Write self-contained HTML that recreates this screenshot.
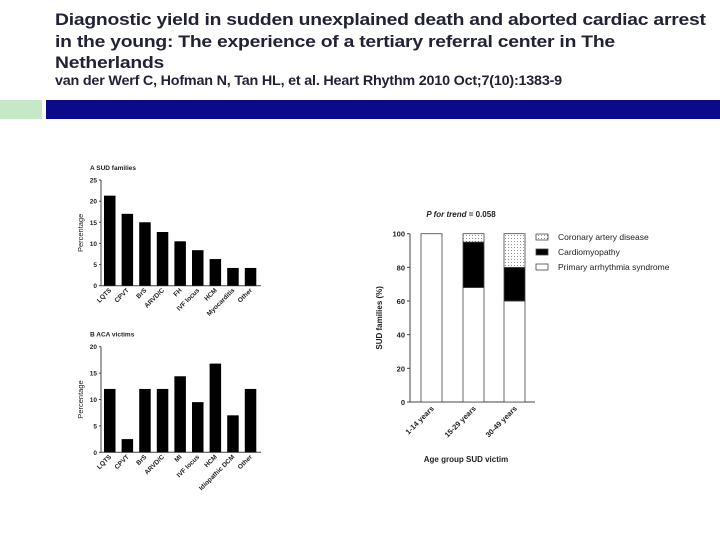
<!DOCTYPE html>
<html><head><meta charset="utf-8"><style>
body{margin:0;width:720px;height:540px;background:#fff;overflow:hidden;font-family:"Liberation Sans",sans-serif;position:relative}
.t{position:absolute;left:55px;top:9px;font-weight:bold;font-size:16.8px;line-height:21.5px;color:#222236;white-space:nowrap;letter-spacing:-0.2px;transform:scaleX(1.15);transform-origin:0 0}
.c{position:absolute;left:55px;top:73px;font-weight:bold;font-size:13.8px;color:#222236;white-space:nowrap;letter-spacing:-0.2px;transform:scaleX(1.04);transform-origin:0 0}
</style></head><body>
<div class="t">Diagnostic yield in sudden unexplained death and aborted cardiac arrest<br>in the young: The experience of a tertiary referral center in The<br>Netherlands</div>
<div class="c">van der Werf C, Hofman N, Tan HL, et al. Heart Rhythm 2010 Oct;7(10):1383-9</div>
<div style="position:absolute;left:0;top:100px;width:42px;height:19px;background:#c6e8c6"></div>
<div style="position:absolute;left:46px;top:100px;width:674px;height:19px;background:#0a0a8a"></div>
<svg id="s" width="720" height="540" style="position:absolute;left:0;top:0" font-family="Liberation Sans, sans-serif"></svg>
<script>
const catsA=["LQTS","CPVT","BrS","ARVD/C","FH","IVF locus","HCM","Myocarditis","Other"];
const valsA=[21.3,17,15,12.7,10.5,8.4,6.3,4.2,4.2];
const ticksA=[0,5,10,15,20,25];
const catsB=["LQTS","CPVT","BrS","ARVD/C","MI","IVF locus","HCM","Idiopathic DCM","Other"];
const valsB=[12,2.5,12,12,14.4,9.5,16.8,7,12];
const ticksB=[0,5,10,15,20];
const groupsC=["1-14 years","15-29 years","30-49 years"];
const pasC=[100,68,60];
const cmC=[0,27,20];
const cadC=[0,5,20];
const ticksC=[0,20,40,60,80,100];
const legendC=["Coronary artery disease","Cardiomyopathy","Primary arrhythmia syndrome"];
const S=document.getElementById('s');
const NS="http://www.w3.org/2000/svg";
function mk(t,a,p){const e=document.createElementNS(NS,t);for(const k in a)e.setAttribute(k,a[k]);(p||S).appendChild(e);return e;}
const defs=mk('defs',{});
const pat=mk('pattern',{id:'dots',width:3,height:3,patternUnits:'userSpaceOnUse'},defs);
mk('rect',{width:3,height:3,fill:'#fff'},pat);mk('rect',{x:1,y:1,width:0.8,height:0.8,fill:'#555'},pat);

function small(cats,vals,ticks,max,y0,y1,title,label,nm){
  const x0=101,step=17.6,bw=11.5;
  const ys=v=>y0-(v/max)*(y0-y1);
  const g=mk('g',{});
  
  
  const t=mk('text',{x:90,y:y1-10,'font-size':6.5,fill:'#222','font-weight':'bold'},g);t.textContent=title;
  
  
  mk('line',{x1:x0,y1:y1,x2:x0,y2:y0,stroke:'#444','stroke-width':1},g);
  mk('line',{x1:x0,y1:y0,x2:x0+160,y2:y0,stroke:'#444','stroke-width':1},g);
  ticks.forEach(v=>{const y=ys(v);mk('line',{x1:x0-2,y1:y,x2:x0,y2:y,stroke:'#444'},g);
    const tt=mk('text',{x:x0-4,y:y+2.5,'font-size':6.5,'text-anchor':'end',fill:'#222','font-weight':'bold'},g);tt.textContent=v;
    
    });
  const yl=mk('text',{x:0,y:0,'font-size':7.5,'text-anchor':'middle',fill:'#222',transform:`translate(83,${(y0+y1)/2}) rotate(-90)`},g);yl.textContent=label;
  
  
  cats.forEach((c,i)=>{const x=x0+3+i*step;const y=ys(vals[i]);
    const r=mk('rect',{x:x,y:y,width:bw,height:y0-y,fill:'#000'},g);
    
    
    const cx=x+bw/2+2;
    const tl=mk('text',{x:0,y:0,'font-size':6.5,'text-anchor':'end',fill:'#222','font-weight':'bold',transform:`translate(${cx},${y0+5}) rotate(-45)`},g);tl.textContent=c;
    
    });
}
small(catsA,valsA,ticksA,25,285.7,180,"A    SUD families","Percentage","chart-sud-families");
small(catsB,valsB,ticksB,20,452.3,346.7,"B    ACA victims","Percentage","chart-aca-victims");

(function(){
  const x0=410,y0=402,y1=233.7;const ys=v=>y0-(v/100)*(y0-y1);
  const g=mk('g',{});
  
  
  const t=mk('text',{x:461,y:217,'font-size':8,'text-anchor':'middle',fill:'#222','font-weight':'bold'},g);
  t.innerHTML='<tspan font-style="italic">P for trend</tspan> = 0.058';
  
  
  mk('line',{x1:x0,y1:y1,x2:x0,y2:y0,stroke:'#444'},g);
  mk('line',{x1:x0,y1:y0,x2:535,y2:y0,stroke:'#444'},g);
  ticksC.forEach(v=>{const y=ys(v);mk('line',{x1:x0-3,y1:y,x2:x0,y2:y,stroke:'#444'},g);
    const tt=mk('text',{x:x0-5,y:y+3,'font-size':7.5,'text-anchor':'end',fill:'#222','font-weight':'bold'},g);tt.textContent=v;
    
    });
  const yl=mk('text',{x:0,y:0,'font-size':8,'text-anchor':'middle',fill:'#222','font-weight':'bold',transform:`translate(382,${(y0+y1)/2}) rotate(-90)`},g);yl.textContent="SUD families (%)";
  
  
  const xs=[421,463,504],bw=21;
  groupsC.forEach((c,i)=>{const x=xs[i];let b=0;
    [[pasC[i],'#fff','pas'],[cmC[i],'#000','cm'],[cadC[i],'url(#dots)','cad']].forEach(([v,f,k])=>{
      if(v<=0)return;const r=mk('rect',{x:x,y:ys(b+v),width:bw,height:ys(b)-ys(b+v),fill:f,stroke:'#444','stroke-width':0.8},g);
      
      b+=v;});
    const tl=mk('text',{x:0,y:0,'font-size':7.5,'text-anchor':'end',fill:'#222','font-weight':'bold',transform:`translate(${x+bw/2+3},${y0+7}) rotate(-45)`},g);tl.textContent=c;
    
    });
  const xt=mk('text',{x:466,y:462,'font-size':8,'text-anchor':'middle',fill:'#222','font-weight':'bold'},g);xt.textContent="Age group SUD victim";
  
  
  const fills=['url(#dots)','#000','#fff'];
  legendC.forEach((l,i)=>{const y=234+i*15;
    const r=mk('rect',{x:536,y:y,width:12,height:6,fill:fills[i],stroke:'#444','stroke-width':0.8},g);
    
    
    const tt=mk('text',{x:558,y:y+6,'font-size':8.5,fill:'#222'},g);tt.textContent=l;
    
    });
})();
</script>
</body></html>
